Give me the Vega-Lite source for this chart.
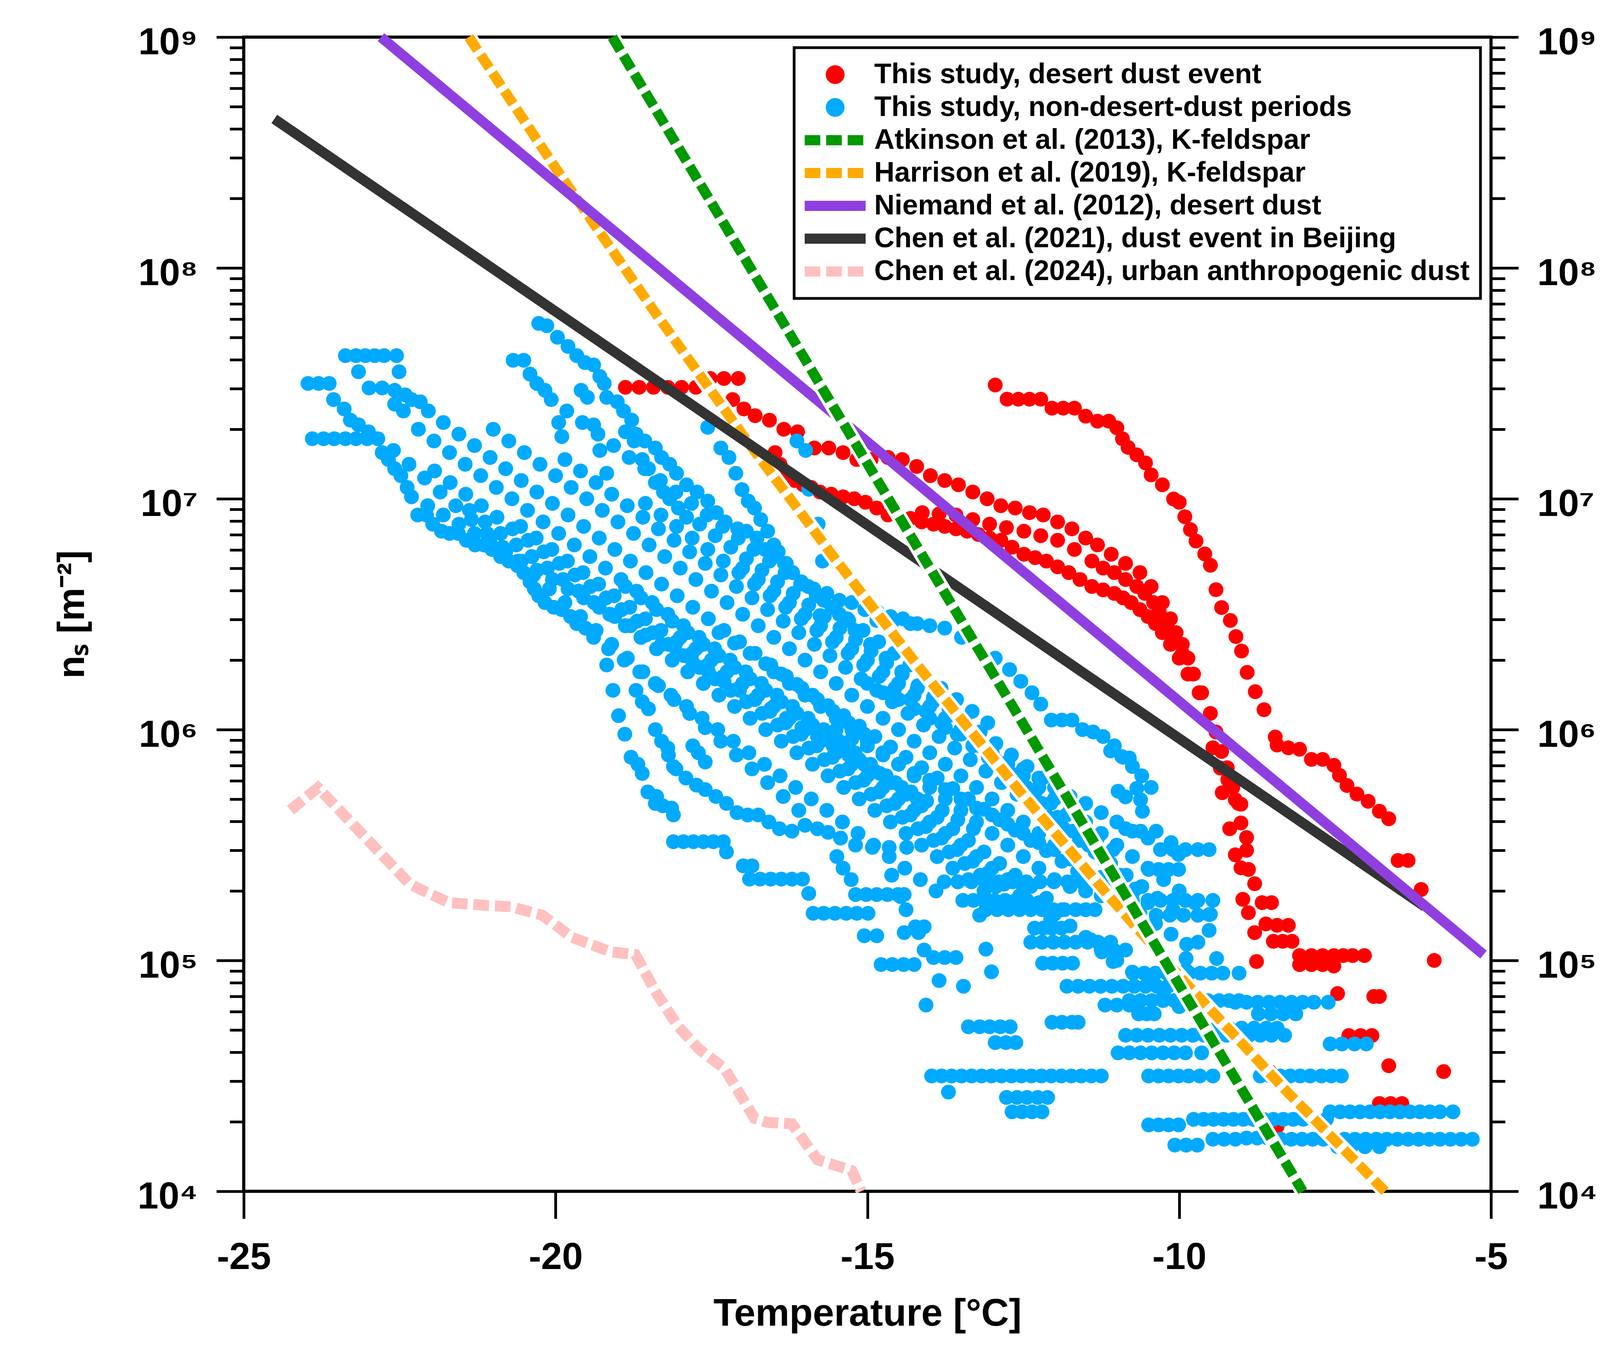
{
  "$schema": "https://vega.github.io/schema/vega-lite/v6.json",
  "width": 3193,
  "height": 2955,
  "autosize": "none",
  "padding": {"left": 624, "top": 95, "right": 293, "bottom": 414},
  "background": "white",
  "datasets": {
    "desertDust": [
      {"t":-18.88,"n":3.04e7},{"t":-18.66,"n":3.04e7},{"t":-18.43,"n":3.04e7},{"t":-18.2,"n":3.04e7},{"t":-17.98,"n":3.04e7},{"t":-17.75,"n":3.04e7},
      {"t":-17.52,"n":3.32e7},{"t":-17.3,"n":3.32e7},{"t":-17.07,"n":3.32e7},
      {"t":-17.16,"n":2.69e7},{"t":-16.98,"n":2.45e7},{"t":-16.8,"n":2.29e7},{"t":-16.57,"n":2.19e7},{"t":-16.34,"n":2.0e7},{"t":-16.12,"n":1.95e7},
      {"t":-15.85,"n":1.66e7},{"t":-15.62,"n":1.66e7},{"t":-15.39,"n":1.585e7},{"t":-15.17,"n":1.48e7},{"t":-14.94,"n":1.48e7},{"t":-14.67,"n":1.51e7},{"t":-14.44,"n":1.48e7},{"t":-14.21,"n":1.38e7},{"t":-13.99,"n":1.26e7},{"t":-13.76,"n":1.2e7},{"t":-13.54,"n":1.15e7},{"t":-13.31,"n":1.07e7},{"t":-13.08,"n":1.0e7},{"t":-12.86,"n":9.33e6},{"t":-12.63,"n":9.12e6},{"t":-12.4,"n":8.71e6},{"t":-12.18,"n":8.51e6},{"t":-11.95,"n":7.94e6},{"t":-11.72,"n":7.41e6},{"t":-11.5,"n":6.76e6},{"t":-11.31,"n":6.31e6},{"t":-11.09,"n":5.75e6},{"t":-10.86,"n":5.25e6},{"t":-10.63,"n":4.79e6},{"t":-10.45,"n":4.17e6},{"t":-10.27,"n":3.55e6},{"t":-10.14,"n":3.02e6},{"t":-10.05,"n":2.63e6},{"t":-9.95,"n":2.34e6},{"t":-9.86,"n":2.04e6},{"t":-9.77,"n":1.74e6},{"t":-9.64,"n":1.445e6},
      {"t":-16.48,"n":1.585e7},{"t":-16.4,"n":1.41e7},{"t":-16.3,"n":1.29e7},{"t":-16.17,"n":1.2e7},{"t":-16.03,"n":1.15e7},{"t":-15.9,"n":1.12e7},{"t":-15.76,"n":1.07e7},{"t":-15.58,"n":1.047e7},{"t":-15.39,"n":1.02e7},{"t":-15.21,"n":1.0e7},{"t":-15.03,"n":9.66e6},{"t":-14.85,"n":9.12e6},{"t":-14.67,"n":8.51e6},{"t":-14.49,"n":8.32e6},{"t":-14.31,"n":8.22e6},{"t":-14.13,"n":7.94e6},{"t":-13.94,"n":7.76e6},{"t":-13.76,"n":7.59e6},{"t":-13.58,"n":7.41e6},{"t":-13.4,"n":7.24e6},{"t":-13.22,"n":7.0e6},{"t":-13.04,"n":6.76e6},{"t":-12.86,"n":6.61e6},{"t":-12.68,"n":6.17e6},{"t":-12.49,"n":5.75e6},{"t":-12.31,"n":5.56e6},{"t":-12.13,"n":5.37e6},{"t":-11.95,"n":5.07e6},{"t":-11.77,"n":4.79e6},{"t":-11.59,"n":4.47e6},{"t":-11.4,"n":4.17e6},{"t":-11.22,"n":4.03e6},{"t":-11.04,"n":3.89e6},{"t":-10.9,"n":3.72e6},{"t":-10.77,"n":3.55e6},{"t":-10.63,"n":3.31e6},{"t":-10.5,"n":3.09e6},{"t":-10.38,"n":2.88e6},{"t":-10.27,"n":2.63e6},{"t":-10.14,"n":2.34e6},{"t":-10.0,"n":2.04e6},{"t":-9.86,"n":1.74e6},{"t":-9.68,"n":1.445e6},{"t":-9.5,"n":1.175e6},{"t":-9.41,"n":9.77e5},{"t":-9.32,"n":8.04e5},{"t":-9.23,"n":6.84e5},{"t":-9.14,"n":5.62e5},{"t":-9.05,"n":4.79e5},
      {"t":-14.12,"n":8.71e6},{"t":-13.85,"n":8.6e6},{"t":-13.58,"n":8.51e6},{"t":-13.31,"n":8.13e6},{"t":-13.04,"n":7.76e6},{"t":-12.77,"n":7.5e6},{"t":-12.49,"n":7.24e6},{"t":-12.22,"n":6.92e6},{"t":-11.95,"n":6.61e6},{"t":-11.68,"n":6.03e6},{"t":-11.4,"n":5.37e6},{"t":-11.22,"n":5.01e6},{"t":-11.04,"n":4.79e6},{"t":-10.86,"n":4.47e6},{"t":-10.68,"n":4.17e6},{"t":-10.55,"n":3.89e6},{"t":-10.41,"n":3.55e6},{"t":-10.32,"n":3.24e6},{"t":-10.23,"n":2.95e6},{"t":-10.16,"n":2.69e6},{"t":-10.09,"n":2.51e6},{"t":-9.95,"n":2.14e6},
      {"t":-9.46,"n":8.34e5},{"t":-9.34,"n":6.81e5},{"t":-9.22,"n":6.07e5},{"t":-9.31,"n":5.33e5},{"t":-9.1,"n":4.97e5},{"t":-9.01,"n":4.75e5},{"t":-9.01,"n":3.94e5},{"t":-9.19,"n":3.72e5},{"t":-8.92,"n":3.41e5},{"t":-8.92,"n":3.0e5},{"t":-9.1,"n":2.87e5},{"t":-9.01,"n":2.52e5},{"t":-8.89,"n":2.48e5},{"t":-8.79,"n":2.15e5},{"t":-8.98,"n":1.84e5},{"t":-8.89,"n":1.61e5},{"t":-8.67,"n":1.78e5},{"t":-8.52,"n":1.78e5},{"t":-8.79,"n":1.32e5},{"t":-8.61,"n":1.44e5},{"t":-8.43,"n":1.42e5},{"t":-8.25,"n":1.42e5},{"t":-8.49,"n":1.21e5},{"t":-8.34,"n":1.21e5},{"t":-8.19,"n":1.21e5},{"t":-8.76,"n":9.89e4},{"t":-8.07,"n":1.05e5},{"t":-7.88,"n":1.05e5},{"t":-7.7,"n":1.05e5},{"t":-7.52,"n":1.05e5},{"t":-7.37,"n":1.05e5},{"t":-7.22,"n":1.05e5},{"t":-7.03,"n":1.05e5},{"t":-8.07,"n":9.59e4},{"t":-7.88,"n":9.59e4},{"t":-7.7,"n":9.59e4},{"t":-7.52,"n":9.46e4},{"t":-7.46,"n":7.19e4},{"t":-6.88,"n":6.98e4},{"t":-6.79,"n":6.98e4},{"t":-7.28,"n":4.73e4},{"t":-7.09,"n":4.73e4},{"t":-6.91,"n":4.73e4},{"t":-6.64,"n":3.5e4},{"t":-6.79,"n":2.4e4},{"t":-6.61,"n":2.4e4},{"t":-6.43,"n":2.4e4},{"t":-8.55,"n":3.3e4},{"t":-8.43,"n":1.91e4},
      {"t":-12.95,"n":3.11e7},{"t":-12.76,"n":2.7e7},{"t":-12.58,"n":2.7e7},{"t":-12.4,"n":2.7e7},{"t":-12.22,"n":2.7e7},{"t":-12.04,"n":2.47e7},{"t":-11.86,"n":2.47e7},{"t":-11.68,"n":2.47e7},{"t":-11.5,"n":2.28e7},{"t":-11.31,"n":2.17e7},{"t":-11.13,"n":2.17e7},{"t":-11.0,"n":2.03e7},{"t":-10.91,"n":1.82e7},{"t":-10.82,"n":1.67e7},{"t":-10.68,"n":1.55e7},{"t":-10.54,"n":1.43e7},{"t":-10.45,"n":1.27e7},{"t":-10.27,"n":1.15e7},{"t":-10.09,"n":9.98e6},{"t":-10.0,"n":9.66e6},{"t":-9.91,"n":8.36e6},{"t":-9.82,"n":7.35e6},{"t":-9.73,"n":6.56e6},{"t":-9.59,"n":5.77e6},{"t":-9.5,"n":5.15e6},{"t":-9.41,"n":4.04e6},{"t":-9.32,"n":3.38e6},{"t":-9.18,"n":2.97e6},{"t":-9.09,"n":2.53e6},{"t":-9.0,"n":2.19e6},{"t":-8.91,"n":1.77e6},{"t":-8.78,"n":1.46e6},{"t":-8.64,"n":1.22e6},{"t":-8.46,"n":9.29e5},{"t":-8.43,"n":8.57e5},{"t":-8.25,"n":8.34e5},{"t":-8.07,"n":8.22e5},{"t":-7.88,"n":7.43e5},{"t":-7.7,"n":7.43e5},{"t":-7.52,"n":7.01e5},{"t":-7.43,"n":6.34e5},{"t":-7.31,"n":5.73e5},{"t":-7.15,"n":5.26e5},{"t":-6.97,"n":4.89e5},{"t":-6.79,"n":4.43e5},{"t":-6.64,"n":4.11e5},{"t":-6.49,"n":2.71e5},{"t":-6.33,"n":2.71e5},{"t":-6.12,"n":2.03e5},{"t":-5.91,"n":1.0e5},{"t":-5.76,"n":3.3e4}
    ],
    "nonDesertDust": [
      {"t":-23.37,"n":4.17e7},{"t":-23.2,"n":4.17e7},{"t":-23.05,"n":4.17e7},{"t":-22.9,"n":4.17e7},{"t":-22.75,"n":4.17e7},{"t":-22.55,"n":4.17e7},
      {"t":-23.16,"n":3.55e7},{"t":-22.51,"n":3.55e7},
      {"t":-23.97,"n":3.16e7},{"t":-23.8,"n":3.16e7},{"t":-23.63,"n":3.16e7},
      {"t":-23.56,"n":2.69e7},{"t":-23.39,"n":2.45e7},{"t":-23.29,"n":2.19e7},{"t":-23.16,"n":2.09e7},{"t":-23.0,"n":1.95e7},
      {"t":-23.9,"n":1.82e7},{"t":-23.72,"n":1.82e7},{"t":-23.55,"n":1.82e7},{"t":-23.37,"n":1.82e7},{"t":-23.2,"n":1.82e7},{"t":-23.02,"n":1.82e7},{"t":-22.85,"n":1.82e7},
      {"t":-22.99,"n":3.02e7},{"t":-22.78,"n":3.02e7},{"t":-22.58,"n":2.95e7},{"t":-22.41,"n":2.82e7},{"t":-22.31,"n":2.69e7},{"t":-22.17,"n":2.63e7},{"t":-22.04,"n":2.4e7},{"t":-22.58,"n":2.57e7},{"t":-22.44,"n":2.4e7},
      {"t":-22.78,"n":1.585e7},{"t":-22.68,"n":1.48e7},{"t":-22.58,"n":1.35e7},{"t":-22.48,"n":1.26e7},{"t":-22.38,"n":1.12e7},{"t":-22.31,"n":1.02e7},
      {"t":-20.27,"n":5.75e7},{"t":-20.14,"n":5.62e7},{"t":-19.97,"n":5.01e7},{"t":-19.8,"n":4.57e7},{"t":-19.66,"n":4.17e7},{"t":-19.53,"n":3.89e7},{"t":-19.39,"n":3.8e7},{"t":-19.29,"n":3.39e7},{"t":-19.22,"n":3.16e7},{"t":-19.18,"n":2.75e7},{"t":-19.01,"n":2.63e7},{"t":-18.91,"n":2.4e7},{"t":-18.78,"n":2.19e7},{"t":-18.71,"n":1.905e7},{"t":-18.57,"n":1.78e7},{"t":-18.4,"n":1.66e7},{"t":-18.3,"n":1.51e7},{"t":-18.17,"n":1.41e7},{"t":-18.06,"n":1.29e7},{"t":-17.9,"n":1.15e7},{"t":-17.73,"n":1.07e7},{"t":-17.56,"n":9.77e6},{"t":-17.42,"n":8.71e6},{"t":-17.28,"n":7.94e6},{"t":-17.08,"n":7.41e6},{"t":-16.94,"n":7.24e6},{"t":-16.77,"n":6.76e6},{"t":-16.64,"n":6.03e6},{"t":-16.5,"n":5.62e6},{"t":-16.33,"n":5.25e6},{"t":-16.2,"n":4.79e6},{"t":-16.06,"n":4.37e6},{"t":-15.86,"n":4.07e6},{"t":-15.65,"n":3.89e6},{"t":-15.45,"n":3.63e6},{"t":-15.25,"n":3.55e6},{"t":-15.04,"n":3.31e6},{"t":-14.84,"n":3.24e6},{"t":-14.63,"n":3.09e6},{"t":-14.43,"n":3.02e6},{"t":-14.2,"n":2.88e6},{"t":-14.0,"n":2.82e6},{"t":-13.76,"n":2.75e6},{"t":-13.49,"n":2.51e6},{"t":-13.22,"n":2.24e6},{"t":-12.95,"n":2.04e6},{"t":-12.72,"n":1.82e6},{"t":-12.54,"n":1.62e6},{"t":-12.36,"n":1.445e6},{"t":-12.22,"n":1.29e6},{"t":-12.05,"n":1.1e6},{"t":-11.88,"n":1.1e6},{"t":-11.72,"n":1.1e6},{"t":-11.55,"n":1.0e6},{"t":-11.38,"n":9.77e5},{"t":-11.22,"n":9.33e5},{"t":-11.04,"n":8.51e5},{"t":-10.9,"n":7.59e5},{"t":-10.75,"n":6.92e5},{"t":-10.6,"n":6.31e5},{"t":-10.45,"n":5.62e5},
      {"t":-15.76,"n":3.12e6},{"t":-15.3,"n":2.97e6},{"t":-14.85,"n":2.97e6},{"t":-14.58,"n":2.97e6},{"t":-14.31,"n":2.88e6},
      {"t":-20.68,"n":3.98e7},{"t":-20.51,"n":3.98e7},{"t":-20.41,"n":3.47e7},{"t":-20.3,"n":3.16e7},{"t":-20.17,"n":2.95e7},{"t":-20.07,"n":2.69e7},{"t":-19.82,"n":2.4e7},{"t":-19.57,"n":2.14e7},{"t":-19.32,"n":1.905e7},{"t":-19.07,"n":1.7e7},{"t":-18.82,"n":1.51e7},{"t":-18.57,"n":1.35e7},{"t":-18.32,"n":1.2e7},{"t":-18.07,"n":1.07e7},{"t":-17.82,"n":9.55e6},{"t":-17.57,"n":8.51e6},{"t":-17.32,"n":7.59e6},{"t":-17.07,"n":6.76e6},{"t":-16.82,"n":6.03e6},{"t":-16.57,"n":5.37e6},{"t":-16.32,"n":4.79e6},{"t":-16.07,"n":4.27e6},{"t":-15.82,"n":3.8e6},{"t":-15.57,"n":3.39e6},{"t":-15.32,"n":3.02e6},{"t":-15.07,"n":2.69e6},{"t":-14.82,"n":2.4e6},{"t":-14.57,"n":2.14e6},{"t":-14.32,"n":1.905e6},{"t":-14.07,"n":1.7e6},{"t":-13.82,"n":1.51e6},{"t":-13.57,"n":1.35e6},{"t":-13.32,"n":1.2e6},{"t":-13.07,"n":1.07e6},
      {"t":-19.95,"n":2.14e7},{"t":-19.9,"n":1.86e7},{"t":-19.59,"n":2.95e7},{"t":-19.49,"n":2.75e7},{"t":-19.39,"n":2.09e7},{"t":-19.29,"n":1.62e7},{"t":-19.18,"n":1.29e7},
      {"t":-18.88,"n":1.95e7},{"t":-18.74,"n":1.78e7},{"t":-18.61,"n":1.48e7},{"t":-18.51,"n":1.35e7},{"t":-18.4,"n":1.175e7},{"t":-18.27,"n":1.07e7},{"t":-18.17,"n":1.0e7},{"t":-18.03,"n":9.12e6},{"t":-17.9,"n":8.32e6},{"t":-17.69,"n":7.76e6},{"t":-17.44,"n":6.92e6},{"t":-17.19,"n":6.17e6},{"t":-16.94,"n":5.5e6},{"t":-16.69,"n":4.9e6},{"t":-16.44,"n":4.37e6},{"t":-16.19,"n":3.89e6},{"t":-15.94,"n":3.47e6},{"t":-15.69,"n":3.09e6},{"t":-15.44,"n":2.75e6},{"t":-15.19,"n":2.45e6},{"t":-14.94,"n":2.19e6},{"t":-14.69,"n":1.95e6},{"t":-14.44,"n":1.74e6},{"t":-14.19,"n":1.55e6},{"t":-13.94,"n":1.38e6},{"t":-13.69,"n":1.23e6},{"t":-13.44,"n":1.1e6},{"t":-13.19,"n":9.77e5},{"t":-12.94,"n":8.71e5},{"t":-12.69,"n":7.76e5},{"t":-12.44,"n":6.92e5},{"t":-12.19,"n":6.17e5},{"t":-11.94,"n":5.5e5},
      {"t":-17.56,"n":2.04e7},{"t":-17.35,"n":1.66e7},{"t":-17.22,"n":1.51e7},{"t":-17.11,"n":1.29e7},{"t":-17.01,"n":1.096e7},{"t":-16.91,"n":9.77e6},{"t":-16.81,"n":9.12e6},{"t":-16.71,"n":8.13e6},{"t":-16.6,"n":7.24e6},{"t":-16.5,"n":6.31e6},{"t":-16.43,"n":5.89e6},{"t":-16.3,"n":5.25e6},{"t":-16.2,"n":4.79e6},{"t":-15.95,"n":4.17e6},{"t":-15.7,"n":3.63e6},{"t":-15.45,"n":3.16e6},{"t":-15.2,"n":2.69e6},{"t":-14.95,"n":2.34e6},{"t":-14.7,"n":2.04e6},{"t":-14.45,"n":1.78e6},{"t":-14.2,"n":1.51e6},{"t":-13.95,"n":1.32e6},{"t":-13.7,"n":1.15e6},{"t":-13.45,"n":1.0e6},{"t":-13.2,"n":8.51e5},{"t":-12.95,"n":7.41e5},{"t":-12.7,"n":6.46e5},{"t":-12.45,"n":5.62e5},{"t":-12.2,"n":4.79e5},{"t":-11.95,"n":4.17e5},{"t":-11.7,"n":3.63e5},{"t":-11.45,"n":3.16e5},{"t":-11.2,"n":2.69e5},{"t":-10.95,"n":2.34e5},{"t":-10.7,"n":2.04e5},
      {"t":-16.13,"n":1.78e7},{"t":-15.99,"n":1.62e7},{"t":-15.94,"n":1.1e7},{"t":-15.79,"n":7.76e6},{"t":-15.72,"n":5.37e6},
      {"t":-21.8,"n":2.14e7},{"t":-21.55,"n":1.905e7},{"t":-21.3,"n":1.7e7},{"t":-21.05,"n":1.51e7},{"t":-20.8,"n":1.35e7},{"t":-20.55,"n":1.2e7},{"t":-20.3,"n":1.07e7},{"t":-20.05,"n":9.55e6},{"t":-19.8,"n":8.51e6},{"t":-19.55,"n":7.59e6},{"t":-19.3,"n":6.76e6},{"t":-19.05,"n":6.03e6},{"t":-18.8,"n":5.37e6},{"t":-18.55,"n":4.79e6},{"t":-18.3,"n":4.27e6},{"t":-18.05,"n":3.8e6},{"t":-17.8,"n":3.39e6},{"t":-17.55,"n":3.02e6},{"t":-17.3,"n":2.69e6},{"t":-17.05,"n":2.4e6},{"t":-16.8,"n":2.14e6},{"t":-16.55,"n":1.905e6},{"t":-16.3,"n":1.7e6},{"t":-16.05,"n":1.51e6},{"t":-15.8,"n":1.35e6},{"t":-15.55,"n":1.2e6},{"t":-15.3,"n":1.07e6},{"t":-15.05,"n":9.55e5},
      {"t":-22.2,"n":2.0e7},{"t":-21.95,"n":1.78e7},{"t":-21.7,"n":1.585e7},{"t":-21.45,"n":1.41e7},{"t":-21.2,"n":1.26e7},{"t":-20.95,"n":1.12e7},{"t":-20.7,"n":1.0e7},{"t":-20.45,"n":8.91e6},{"t":-20.2,"n":7.94e6},{"t":-19.95,"n":7.08e6},{"t":-19.7,"n":6.31e6},{"t":-19.45,"n":5.62e6},{"t":-19.2,"n":5.01e6},{"t":-18.95,"n":4.47e6},{"t":-18.7,"n":3.98e6},{"t":-18.45,"n":3.55e6},{"t":-18.2,"n":3.16e6},{"t":-17.95,"n":2.82e6},{"t":-17.7,"n":2.51e6},{"t":-17.45,"n":2.24e6},{"t":-17.2,"n":2.0e6},{"t":-16.95,"n":1.78e6},{"t":-16.7,"n":1.585e6},{"t":-16.45,"n":1.41e6},{"t":-16.2,"n":1.26e6},{"t":-15.95,"n":1.12e6},{"t":-15.7,"n":1.0e6},{"t":-15.45,"n":8.91e5},{"t":-15.2,"n":7.94e5},{"t":-14.95,"n":7.08e5},{"t":-14.7,"n":6.31e5},{"t":-14.45,"n":5.62e5},{"t":-14.2,"n":5.01e5},
      {"t":-22.6,"n":1.62e7},{"t":-22.35,"n":1.41e7},{"t":-22.1,"n":1.23e7},{"t":-21.85,"n":1.07e7},{"t":-21.6,"n":9.33e6},{"t":-21.35,"n":8.13e6},{"t":-21.1,"n":7.08e6},{"t":-20.85,"n":6.17e6},{"t":-20.6,"n":5.37e6},{"t":-20.35,"n":4.68e6},{"t":-20.1,"n":4.07e6},{"t":-19.85,"n":3.55e6},{"t":-19.6,"n":3.09e6},{"t":-19.35,"n":2.69e6},{"t":-19.1,"n":2.34e6},{"t":-18.85,"n":2.04e6},{"t":-18.6,"n":1.78e6},{"t":-18.35,"n":1.55e6},{"t":-18.1,"n":1.35e6},{"t":-17.85,"n":1.175e6},{"t":-17.6,"n":1.02e6},{"t":-17.35,"n":8.91e5},{"t":-17.1,"n":7.76e5},{"t":-16.85,"n":6.76e5},{"t":-16.6,"n":5.89e5},{"t":-16.35,"n":5.13e5},{"t":-16.1,"n":4.47e5},
      {"t":-22.05,"n":9.33e6},{"t":-21.8,"n":8.51e6},{"t":-21.55,"n":7.76e6},{"t":-21.3,"n":7.08e6},{"t":-21.05,"n":6.46e6},{"t":-20.8,"n":5.89e6},{"t":-20.55,"n":5.37e6},{"t":-20.3,"n":4.9e6},{"t":-20.05,"n":4.47e6},{"t":-19.8,"n":4.07e6},{"t":-19.55,"n":3.72e6},{"t":-19.3,"n":3.39e6},{"t":-19.05,"n":3.09e6},{"t":-18.8,"n":2.82e6},{"t":-18.55,"n":2.57e6},{"t":-18.3,"n":2.34e6},{"t":-18.05,"n":2.14e6},{"t":-17.8,"n":1.95e6},{"t":-17.55,"n":1.78e6},{"t":-17.3,"n":1.62e6},{"t":-17.05,"n":1.48e6},{"t":-16.8,"n":1.35e6},{"t":-16.55,"n":1.23e6},{"t":-16.3,"n":1.12e6},{"t":-16.05,"n":1.02e6},{"t":-15.8,"n":9.33e5},{"t":-15.55,"n":8.51e5},{"t":-15.3,"n":7.76e5},{"t":-15.05,"n":7.08e5},{"t":-14.8,"n":6.46e5},{"t":-14.55,"n":5.89e5},{"t":-14.3,"n":5.37e5},{"t":-14.05,"n":4.9e5},{"t":-13.8,"n":4.47e5},{"t":-13.55,"n":4.07e5},{"t":-13.3,"n":3.72e5},
      {"t":-22.21,"n":8.51e6},{"t":-22.07,"n":8.51e6},{"t":-21.97,"n":7.76e6},{"t":-21.83,"n":7.24e6},{"t":-21.7,"n":7.08e6},{"t":-21.56,"n":7.08e6},{"t":-21.43,"n":6.61e6},{"t":-21.29,"n":6.31e6},{"t":-21.15,"n":6.31e6},{"t":-21.02,"n":6.03e6},{"t":-20.88,"n":5.62e6},{"t":-20.75,"n":5.37e6},{"t":-20.61,"n":5.13e6},{"t":-20.51,"n":4.79e6},{"t":-20.41,"n":4.37e6},{"t":-20.34,"n":4.07e6},{"t":-20.27,"n":3.8e6},{"t":-20.17,"n":3.55e6},{"t":-20.03,"n":3.39e6},{"t":-19.9,"n":3.31e6},{"t":-19.76,"n":3.09e6},{"t":-19.66,"n":2.88e6},{"t":-19.52,"n":2.75e6},{"t":-19.39,"n":2.51e6},{"t":-19.15,"n":2.24e6},{"t":-18.9,"n":2.0e6},{"t":-18.65,"n":1.78e6},{"t":-18.4,"n":1.585e6},{"t":-18.15,"n":1.41e6},{"t":-17.9,"n":1.26e6},{"t":-17.65,"n":1.12e6},{"t":-17.4,"n":1.0e6},{"t":-17.15,"n":8.91e5},{"t":-16.9,"n":7.94e5},{"t":-16.65,"n":7.08e5},{"t":-16.4,"n":6.31e5},{"t":-16.15,"n":5.62e5},{"t":-15.9,"n":5.01e5},{"t":-15.65,"n":4.47e5},{"t":-15.4,"n":3.98e5},{"t":-15.15,"n":3.55e5},{"t":-14.9,"n":3.16e5},{"t":-14.65,"n":2.82e5},{"t":-14.4,"n":2.51e5},{"t":-14.15,"n":2.24e5},{"t":-13.9,"n":2.0e5},
      {"t":-21.0,"n":2.0e7},{"t":-20.75,"n":1.78e7},{"t":-20.5,"n":1.585e7},{"t":-20.25,"n":1.41e7},{"t":-20.0,"n":1.26e7},{"t":-19.75,"n":1.12e7},{"t":-19.5,"n":1.0e7},{"t":-19.25,"n":8.91e6},{"t":-19.0,"n":7.94e6},{"t":-18.75,"n":7.08e6},{"t":-18.5,"n":6.31e6},{"t":-18.25,"n":5.62e6},{"t":-18.0,"n":5.01e6},{"t":-17.75,"n":4.47e6},{"t":-17.5,"n":3.98e6},{"t":-17.25,"n":3.55e6},{"t":-17.0,"n":3.16e6},{"t":-16.75,"n":2.82e6},{"t":-16.5,"n":2.51e6},{"t":-16.25,"n":2.24e6},{"t":-16.0,"n":2.0e6},{"t":-15.75,"n":1.78e6},{"t":-15.5,"n":1.585e6},{"t":-15.25,"n":1.41e6},{"t":-15.0,"n":1.26e6},{"t":-14.75,"n":1.12e6},{"t":-14.5,"n":1.0e6},{"t":-14.25,"n":8.91e5},{"t":-14.0,"n":7.94e5},{"t":-13.75,"n":7.08e5},{"t":-13.5,"n":6.31e5},{"t":-13.25,"n":5.62e5},{"t":-13.0,"n":5.01e5},{"t":-12.75,"n":4.47e5},{"t":-12.5,"n":3.98e5},{"t":-12.25,"n":3.55e5},{"t":-12.0,"n":3.16e5},{"t":-11.75,"n":2.82e5},{"t":-11.5,"n":2.51e5},{"t":-11.25,"n":2.24e5},{"t":-11.0,"n":2.0e5},
      {"t":-19.85,"n":1.48e7},{"t":-19.6,"n":1.32e7},{"t":-19.35,"n":1.175e7},{"t":-19.1,"n":1.047e7},{"t":-18.85,"n":9.33e6},{"t":-18.6,"n":8.32e6},{"t":-18.35,"n":7.41e6},{"t":-18.1,"n":6.61e6},{"t":-17.85,"n":5.89e6},{"t":-17.6,"n":5.25e6},{"t":-17.35,"n":4.68e6},{"t":-17.1,"n":4.17e6},{"t":-16.85,"n":3.72e6},{"t":-16.6,"n":3.31e6},{"t":-16.35,"n":2.95e6},{"t":-16.1,"n":2.63e6},{"t":-15.85,"n":2.34e6},{"t":-15.6,"n":2.09e6},{"t":-15.35,"n":1.86e6},{"t":-15.1,"n":1.66e6},{"t":-14.85,"n":1.48e6},{"t":-14.6,"n":1.32e6},{"t":-14.35,"n":1.175e6},{"t":-14.1,"n":1.047e6},{"t":-13.85,"n":9.33e5},{"t":-13.6,"n":8.32e5},{"t":-13.35,"n":7.41e5},{"t":-13.1,"n":6.61e5},{"t":-12.85,"n":5.89e5},{"t":-12.6,"n":5.25e5},{"t":-12.35,"n":4.68e5},{"t":-12.1,"n":4.17e5},{"t":-11.85,"n":3.72e5},{"t":-11.6,"n":3.31e5},{"t":-11.35,"n":2.95e5},{"t":-11.1,"n":2.63e5},{"t":-10.85,"n":2.34e5},{"t":-10.6,"n":2.09e5},{"t":-10.35,"n":1.86e5},{"t":-10.1,"n":1.66e5},
      {"t":-18.0,"n":2.51e6},{"t":-17.75,"n":2.24e6},{"t":-17.5,"n":2.0e6},{"t":-17.25,"n":1.78e6},{"t":-17.0,"n":1.585e6},{"t":-16.75,"n":1.41e6},{"t":-16.5,"n":1.26e6},{"t":-16.25,"n":1.12e6},{"t":-16.0,"n":1.0e6},{"t":-15.75,"n":8.91e5},{"t":-15.5,"n":7.94e5},{"t":-15.25,"n":7.08e5},{"t":-15.0,"n":6.31e5},{"t":-14.75,"n":5.62e5},{"t":-14.5,"n":5.01e5},{"t":-14.25,"n":4.47e5},{"t":-14.0,"n":3.98e5},{"t":-13.75,"n":3.55e5},{"t":-13.5,"n":3.16e5},{"t":-13.25,"n":2.82e5},{"t":-13.0,"n":2.51e5},{"t":-12.75,"n":2.24e5},{"t":-12.5,"n":2.0e5},{"t":-12.25,"n":1.78e5},{"t":-12.0,"n":1.585e5},{"t":-11.75,"n":1.41e5},{"t":-11.5,"n":1.26e5},{"t":-11.25,"n":1.12e5},{"t":-11.0,"n":1.0e5},{"t":-10.75,"n":8.91e4},{"t":-10.5,"n":7.94e4},{"t":-10.25,"n":7.08e4},{"t":-10.0,"n":6.31e4},
      {"t":-17.0,"n":5.01e6},{"t":-16.75,"n":4.47e6},{"t":-16.5,"n":3.98e6},{"t":-16.25,"n":3.55e6},{"t":-16.0,"n":3.16e6},{"t":-15.75,"n":2.82e6},{"t":-15.5,"n":2.51e6},{"t":-15.25,"n":2.24e6},{"t":-15.0,"n":2.0e6},{"t":-14.75,"n":1.78e6},{"t":-14.5,"n":1.585e6},{"t":-14.25,"n":1.41e6},{"t":-14.0,"n":1.26e6},{"t":-13.75,"n":1.12e6},{"t":-13.5,"n":1.0e6},{"t":-13.25,"n":8.91e5},{"t":-13.0,"n":7.94e5},{"t":-12.75,"n":7.08e5},{"t":-12.5,"n":6.31e5},{"t":-12.25,"n":5.62e5},{"t":-12.0,"n":5.01e5},{"t":-11.75,"n":4.47e5},{"t":-11.5,"n":3.98e5},{"t":-11.25,"n":3.55e5},{"t":-11.0,"n":3.16e5},{"t":-10.75,"n":2.82e5},{"t":-10.5,"n":2.51e5},{"t":-10.25,"n":2.24e5},{"t":-10.0,"n":2.0e5},{"t":-9.75,"n":1.78e5},{"t":-9.5,"n":1.585e5},
      {"t":-15.0,"n":1.585e6},{"t":-14.75,"n":1.445e6},{"t":-14.5,"n":1.35e6},{"t":-14.25,"n":1.23e6},{"t":-14.0,"n":1.12e6},{"t":-13.75,"n":1.02e6},{"t":-13.5,"n":9.55e5},{"t":-13.25,"n":8.71e5},{"t":-13.0,"n":7.94e5},{"t":-12.75,"n":7.24e5},{"t":-12.5,"n":6.76e5},{"t":-12.25,"n":6.17e5},{"t":-12.0,"n":5.62e5},{"t":-11.75,"n":5.13e5},{"t":-11.5,"n":4.79e5},{"t":-11.25,"n":4.37e5},{"t":-11.0,"n":3.98e5},{"t":-10.75,"n":3.63e5},{"t":-10.5,"n":3.39e5},{"t":-10.3,"n":3.02e5},{"t":-10.1,"n":3.02e5},{"t":-9.9,"n":3.02e5},{"t":-9.7,"n":3.02e5},{"t":-9.52,"n":3.02e5},
      {"t":-16.5,"n":1.78e6},{"t":-16.25,"n":1.585e6},{"t":-16.0,"n":1.41e6},{"t":-15.75,"n":1.26e6},{"t":-15.5,"n":1.12e6},{"t":-15.25,"n":1.0e6},{"t":-15.0,"n":8.91e5},{"t":-14.75,"n":7.94e5},{"t":-14.5,"n":7.08e5},{"t":-14.25,"n":6.31e5},{"t":-14.0,"n":5.62e5},{"t":-13.75,"n":5.01e5},{"t":-13.5,"n":4.47e5},{"t":-13.25,"n":3.98e5},{"t":-13.0,"n":3.55e5},{"t":-12.75,"n":3.16e5},{"t":-12.5,"n":2.82e5},{"t":-12.25,"n":2.51e5},{"t":-12.0,"n":2.24e5},{"t":-11.75,"n":2.09e5},{"t":-11.5,"n":2.0e5},{"t":-11.25,"n":1.905e5},{"t":-11.0,"n":1.86e5},{"t":-10.75,"n":1.82e5},{"t":-10.5,"n":1.82e5},{"t":-10.3,"n":1.82e5},{"t":-10.1,"n":1.82e5},{"t":-9.9,"n":1.82e5},{"t":-9.7,"n":1.82e5},{"t":-9.46,"n":1.82e5},
      {"t":-15.5,"n":1.0e6},{"t":-15.25,"n":9.12e5},{"t":-15.0,"n":8.51e5},{"t":-14.75,"n":7.76e5},{"t":-14.5,"n":7.08e5},{"t":-14.25,"n":6.46e5},{"t":-14.0,"n":6.03e5},{"t":-13.75,"n":5.5e5},{"t":-13.5,"n":5.01e5},{"t":-13.25,"n":4.57e5},{"t":-13.0,"n":4.27e5},{"t":-12.75,"n":3.89e5},{"t":-12.5,"n":3.55e5},{"t":-12.25,"n":3.24e5},{"t":-12.0,"n":3.02e5},{"t":-11.75,"n":2.75e5},{"t":-11.5,"n":2.51e5},{"t":-11.25,"n":2.29e5},{"t":-11.0,"n":2.14e5},{"t":-10.75,"n":1.95e5},{"t":-10.5,"n":1.78e5},{"t":-10.37,"n":1.57e5},{"t":-10.15,"n":1.57e5},{"t":-9.93,"n":1.57e5},{"t":-9.7,"n":1.57e5},
      {"t":-20.38,"n":5.62e6},{"t":-20.13,"n":5.01e6},{"t":-19.88,"n":4.47e6},{"t":-19.63,"n":3.98e6},{"t":-19.38,"n":3.55e6},{"t":-19.13,"n":3.16e6},{"t":-18.88,"n":2.82e6},{"t":-18.63,"n":2.51e6},{"t":-18.38,"n":2.24e6},{"t":-18.13,"n":2.0e6},{"t":-17.88,"n":1.78e6},{"t":-17.63,"n":1.585e6},{"t":-17.38,"n":1.41e6},{"t":-17.13,"n":1.26e6},{"t":-16.88,"n":1.12e6},{"t":-16.63,"n":1.0e6},{"t":-16.38,"n":8.91e5},{"t":-16.13,"n":7.94e5},{"t":-15.88,"n":7.08e5},{"t":-15.63,"n":6.31e5},{"t":-15.38,"n":5.62e5},{"t":-15.13,"n":5.01e5},{"t":-14.88,"n":4.47e5},{"t":-14.63,"n":3.98e5},{"t":-14.38,"n":3.55e5},{"t":-14.13,"n":3.16e5},{"t":-13.88,"n":2.82e5},{"t":-13.63,"n":2.51e5},{"t":-13.38,"n":2.24e5},{"t":-13.13,"n":2.0e5},{"t":-12.88,"n":1.78e5},
      {"t":-18.88,"n":4.17e6},{"t":-18.63,"n":3.72e6},{"t":-18.38,"n":3.31e6},{"t":-18.13,"n":2.95e6},{"t":-17.88,"n":2.63e6},{"t":-17.63,"n":2.34e6},{"t":-17.38,"n":2.09e6},{"t":-17.13,"n":1.86e6},{"t":-16.88,"n":1.66e6},{"t":-16.63,"n":1.48e6},{"t":-16.38,"n":1.32e6},{"t":-16.13,"n":1.175e6},{"t":-15.88,"n":1.047e6},{"t":-15.63,"n":9.33e5},{"t":-15.38,"n":8.32e5},{"t":-15.13,"n":7.41e5},{"t":-14.88,"n":6.61e5},{"t":-14.63,"n":5.89e5},{"t":-14.38,"n":5.25e5},{"t":-14.13,"n":4.68e5},{"t":-13.88,"n":4.17e5},{"t":-13.63,"n":3.72e5},{"t":-13.38,"n":3.31e5},{"t":-13.13,"n":2.95e5},{"t":-12.88,"n":2.63e5},{"t":-12.63,"n":2.34e5},{"t":-12.38,"n":2.09e5},{"t":-12.13,"n":1.86e5},{"t":-11.88,"n":1.66e5},
      {"t":-17.38,"n":2.63e6},{"t":-17.13,"n":2.37e6},{"t":-16.88,"n":2.14e6},{"t":-16.63,"n":1.93e6},{"t":-16.38,"n":1.74e6},{"t":-16.13,"n":1.57e6},{"t":-15.88,"n":1.41e6},{"t":-15.63,"n":1.27e6},{"t":-15.38,"n":1.15e6},{"t":-15.13,"n":1.035e6},{"t":-14.88,"n":9.33e5},{"t":-14.63,"n":8.41e5},{"t":-14.38,"n":7.59e5},{"t":-14.13,"n":6.84e5},{"t":-13.88,"n":6.17e5},{"t":-13.63,"n":5.56e5},{"t":-13.38,"n":5.01e5},{"t":-13.13,"n":4.52e5},{"t":-12.88,"n":4.07e5},{"t":-12.63,"n":3.67e5},{"t":-12.38,"n":3.31e5},{"t":-12.13,"n":2.99e5},{"t":-11.88,"n":2.69e5},{"t":-11.63,"n":2.43e5},{"t":-11.38,"n":2.19e5},{"t":-11.13,"n":1.97e5},{"t":-10.88,"n":1.78e5},{"t":-10.63,"n":1.6e5},{"t":-10.38,"n":1.445e5},{"t":-10.13,"n":1.3e5},{"t":-9.88,"n":1.175e5},
      {"t":-21.38,"n":8.91e6},{"t":-21.13,"n":7.94e6},{"t":-20.88,"n":7.08e6},{"t":-20.63,"n":6.31e6},{"t":-20.38,"n":5.62e6},{"t":-20.13,"n":5.01e6},{"t":-19.88,"n":4.47e6},{"t":-19.63,"n":3.98e6},{"t":-19.38,"n":3.55e6},{"t":-19.13,"n":3.16e6},{"t":-18.88,"n":2.82e6},{"t":-18.63,"n":2.51e6},{"t":-18.38,"n":2.24e6},{"t":-18.13,"n":2.0e6},{"t":-17.88,"n":1.78e6},{"t":-17.63,"n":1.585e6},{"t":-17.38,"n":1.41e6},
      {"t":-21.94,"n":1.32e7},{"t":-21.69,"n":1.175e7},{"t":-21.44,"n":1.047e7},{"t":-21.19,"n":9.33e6},{"t":-20.94,"n":8.32e6},{"t":-20.69,"n":7.41e6},{"t":-20.44,"n":6.61e6},{"t":-20.19,"n":5.89e6},{"t":-19.94,"n":5.25e6},{"t":-19.69,"n":4.68e6},{"t":-19.44,"n":4.17e6},{"t":-19.19,"n":3.72e6},{"t":-18.94,"n":3.31e6},{"t":-18.69,"n":2.95e6},{"t":-18.44,"n":2.63e6},{"t":-18.19,"n":2.34e6},{"t":-17.94,"n":2.09e6},{"t":-17.69,"n":1.86e6},{"t":-17.44,"n":1.66e6},{"t":-17.19,"n":1.48e6},{"t":-16.94,"n":1.32e6},{"t":-16.69,"n":1.175e6},{"t":-16.44,"n":1.047e6},{"t":-16.19,"n":9.33e5},{"t":-15.94,"n":8.32e5},{"t":-15.69,"n":7.41e5},{"t":-15.44,"n":6.61e5},{"t":-15.19,"n":5.89e5},{"t":-14.94,"n":5.25e5},{"t":-14.69,"n":4.68e5},{"t":-14.44,"n":4.17e5},{"t":-14.19,"n":3.72e5},{"t":-13.94,"n":3.31e5},{"t":-13.69,"n":2.95e5},{"t":-13.44,"n":2.63e5},{"t":-13.19,"n":2.34e5},{"t":-12.94,"n":2.09e5},
      {"t":-20.56,"n":7.59e6},{"t":-20.31,"n":6.76e6},{"t":-20.06,"n":6.03e6},{"t":-19.81,"n":5.37e6},{"t":-19.56,"n":4.79e6},{"t":-19.31,"n":4.27e6},{"t":-19.06,"n":3.8e6},{"t":-18.81,"n":3.39e6},{"t":-18.56,"n":3.02e6},{"t":-18.31,"n":2.69e6},{"t":-18.06,"n":2.4e6},{"t":-17.81,"n":2.14e6},{"t":-17.56,"n":1.905e6},{"t":-17.31,"n":1.7e6},{"t":-17.06,"n":1.51e6},{"t":-16.81,"n":1.35e6},{"t":-16.56,"n":1.2e6},{"t":-16.31,"n":1.07e6},{"t":-16.06,"n":9.55e5},{"t":-15.81,"n":8.51e5},{"t":-15.56,"n":7.59e5},{"t":-15.31,"n":6.76e5},{"t":-15.06,"n":6.03e5},{"t":-14.81,"n":5.37e5},{"t":-14.56,"n":4.79e5},{"t":-14.31,"n":4.27e5},{"t":-14.06,"n":3.8e5},{"t":-13.81,"n":3.39e5},{"t":-13.56,"n":3.02e5},{"t":-13.31,"n":2.69e5},{"t":-13.06,"n":2.4e5},{"t":-12.81,"n":2.14e5},{"t":-12.56,"n":1.905e5},{"t":-12.31,"n":1.7e5},{"t":-12.06,"n":1.51e5},
      {"t":-18.56,"n":9.55e6},{"t":-18.31,"n":8.51e6},{"t":-18.06,"n":7.59e6},{"t":-17.81,"n":6.76e6},{"t":-17.56,"n":6.03e6},{"t":-17.31,"n":5.37e6},{"t":-17.06,"n":4.79e6},{"t":-16.81,"n":4.27e6},{"t":-16.56,"n":3.8e6},{"t":-16.31,"n":3.39e6},{"t":-16.06,"n":3.02e6},{"t":-15.81,"n":2.69e6},{"t":-15.56,"n":2.4e6},{"t":-15.31,"n":2.14e6},{"t":-15.06,"n":1.905e6},{"t":-14.81,"n":1.7e6},{"t":-14.56,"n":1.51e6},{"t":-14.31,"n":1.35e6},{"t":-14.06,"n":1.2e6},{"t":-13.81,"n":1.07e6},{"t":-13.56,"n":9.55e5},{"t":-13.31,"n":8.51e5},{"t":-13.06,"n":7.59e5},{"t":-12.81,"n":6.76e5},{"t":-12.56,"n":6.03e5},{"t":-12.31,"n":5.37e5},{"t":-12.06,"n":4.79e5},{"t":-11.81,"n":4.27e5},{"t":-11.56,"n":3.8e5},{"t":-11.31,"n":3.39e5},{"t":-11.06,"n":3.02e5},
      {"t":-19.18,"n":1.905e6},{"t":-19.08,"n":1.48e6},{"t":-18.99,"n":1.15e6},{"t":-18.89,"n":9.55e5},
      {"t":-18.71,"n":1.48e6},{"t":-18.61,"n":1.32e6},{"t":-18.51,"n":1.23e6},
      {"t":-18.79,"n":7.59e5},{"t":-18.68,"n":7.08e5},{"t":-18.61,"n":6.46e5},{"t":-18.52,"n":5.37e5},{"t":-18.4,"n":4.79e5},{"t":-18.38,"n":5.13e5},{"t":-18.28,"n":4.68e5},{"t":-18.14,"n":4.57e5},{"t":-18.11,"n":4.27e5},
      {"t":-18.4,"n":1.0e6},{"t":-18.3,"n":8.91e5},{"t":-18.2,"n":8.32e5},{"t":-18.19,"n":7.76e5},{"t":-18.07,"n":6.76e5},
      {"t":-17.8,"n":8.51e5},{"t":-17.71,"n":7.94e5},{"t":-17.6,"n":7.24e5},
      {"t":-18.11,"n":6.92e5},{"t":-17.91,"n":6.17e5},{"t":-17.74,"n":5.75e5},{"t":-17.6,"n":5.5e5},{"t":-17.43,"n":5.13e5},{"t":-17.26,"n":4.79e5},{"t":-17.09,"n":4.37e5},{"t":-16.92,"n":4.27e5},{"t":-16.75,"n":4.27e5},{"t":-16.58,"n":3.98e5},{"t":-16.41,"n":3.72e5},{"t":-16.21,"n":3.63e5},{"t":-16.0,"n":3.85e5},{"t":-15.8,"n":3.72e5},{"t":-15.63,"n":3.59e5},{"t":-15.43,"n":3.39e5},{"t":-15.19,"n":3.16e5},{"t":-14.92,"n":3.09e5},{"t":-14.65,"n":3.09e5},{"t":-14.37,"n":3.09e5},
      {"t":-18.11,"n":3.27e5},{"t":-17.95,"n":3.27e5},{"t":-17.79,"n":3.27e5},{"t":-17.63,"n":3.27e5},{"t":-17.47,"n":3.27e5},{"t":-17.31,"n":3.27e5},
      {"t":-17.26,"n":2.95e5},{"t":-16.99,"n":2.57e5},{"t":-16.85,"n":2.57e5},
      {"t":-16.89,"n":2.25e5},{"t":-16.72,"n":2.25e5},{"t":-16.55,"n":2.25e5},{"t":-16.38,"n":2.25e5},{"t":-16.21,"n":2.25e5},{"t":-16.04,"n":2.25e5},
      {"t":-15.94,"n":1.95e5},
      {"t":-15.87,"n":1.6e5},{"t":-15.7,"n":1.6e5},{"t":-15.52,"n":1.6e5},{"t":-15.34,"n":1.6e5},{"t":-15.17,"n":1.6e5},{"t":-14.99,"n":1.6e5},
      {"t":-15.49,"n":2.82e5},{"t":-15.39,"n":2.51e5},{"t":-15.26,"n":2.24e5},{"t":-14.61,"n":2.34e5},
      {"t":-15.19,"n":1.93e5},{"t":-15.02,"n":1.93e5},{"t":-14.85,"n":1.93e5},{"t":-14.68,"n":1.93e5},{"t":-14.51,"n":1.93e5},{"t":-14.41,"n":1.93e5},
      {"t":-15.05,"n":1.28e5},{"t":-14.85,"n":1.28e5},{"t":-14.41,"n":1.32e5},{"t":-14.18,"n":1.32e5},{"t":-14.09,"n":1.4e5},
      {"t":-14.78,"n":9.6e4},{"t":-14.6,"n":9.6e4},{"t":-14.42,"n":9.6e4},{"t":-14.25,"n":9.6e4},
      {"t":-14.09,"n":1.11e5},{"t":-13.94,"n":1.03e5},{"t":-13.76,"n":1.03e5},{"t":-13.58,"n":1.03e5},
      {"t":-13.85,"n":8.18e4},{"t":-13.46,"n":7.73e4},{"t":-14.06,"n":6.41e4},{"t":-13.1,"n":1.12e5},{"t":-13.01,"n":8.93e4},
      {"t":-14.38,"n":1.66e5},{"t":-14.47,"n":1.89e5},{"t":-14.23,"n":1.4e5},
      {"t":-13.97,"n":3.16e4},{"t":-13.81,"n":3.16e4},{"t":-13.65,"n":3.16e4},{"t":-13.49,"n":3.16e4},{"t":-13.33,"n":3.16e4},{"t":-13.17,"n":3.16e4},{"t":-13.01,"n":3.16e4},{"t":-12.85,"n":3.16e4},{"t":-12.69,"n":3.16e4},{"t":-12.53,"n":3.16e4},{"t":-12.37,"n":3.16e4},{"t":-12.21,"n":3.16e4},{"t":-12.05,"n":3.16e4},{"t":-11.89,"n":3.16e4},{"t":-11.73,"n":3.16e4},{"t":-11.57,"n":3.16e4},{"t":-11.41,"n":3.16e4},{"t":-11.25,"n":3.16e4},
      {"t":-13.7,"n":2.69e4},
      {"t":-12.77,"n":2.55e4},{"t":-12.6,"n":2.55e4},{"t":-12.44,"n":2.55e4},{"t":-12.27,"n":2.55e4},{"t":-12.11,"n":2.55e4},
      {"t":-12.68,"n":2.21e4},{"t":-12.52,"n":2.21e4},{"t":-12.36,"n":2.21e4},{"t":-12.2,"n":2.21e4},
      {"t":-13.38,"n":5.16e4},{"t":-13.2,"n":5.16e4},{"t":-13.04,"n":5.16e4},{"t":-12.87,"n":5.16e4},{"t":-12.71,"n":5.16e4},
      {"t":-12.95,"n":4.41e4},{"t":-12.78,"n":4.41e4},{"t":-12.62,"n":4.41e4},
      {"t":-12.04,"n":5.4e4},{"t":-11.88,"n":5.4e4},{"t":-11.72,"n":5.4e4},{"t":-11.62,"n":5.4e4},
      {"t":-10.49,"n":1.94e4},{"t":-10.33,"n":1.94e4},{"t":-10.17,"n":1.94e4},{"t":-10.01,"n":1.94e4},
      {"t":-10.07,"n":1.585e4},{"t":-9.89,"n":1.585e4},{"t":-9.71,"n":1.585e4},
      {"t":-9.77,"n":2.05e4},{"t":-9.61,"n":2.05e4},{"t":-9.45,"n":2.05e4},{"t":-9.29,"n":2.05e4},{"t":-9.13,"n":2.05e4},{"t":-8.97,"n":2.05e4},{"t":-8.81,"n":2.05e4},{"t":-8.65,"n":2.05e4},{"t":-8.49,"n":2.05e4},{"t":-8.33,"n":2.05e4},{"t":-8.17,"n":2.05e4},{"t":-8.01,"n":2.05e4},{"t":-7.85,"n":2.05e4},{"t":-7.64,"n":2.05e4},
      {"t":-7.58,"n":2.21e4},{"t":-7.42,"n":2.21e4},{"t":-7.26,"n":2.21e4},{"t":-7.1,"n":2.21e4},{"t":-6.94,"n":2.21e4},{"t":-6.78,"n":2.21e4},{"t":-6.62,"n":2.21e4},{"t":-6.46,"n":2.21e4},{"t":-6.3,"n":2.21e4},{"t":-6.14,"n":2.21e4},{"t":-5.98,"n":2.21e4},{"t":-5.82,"n":2.21e4},{"t":-5.61,"n":2.21e4},
      {"t":-9.46,"n":1.68e4},{"t":-9.28,"n":1.68e4},{"t":-9.1,"n":1.68e4},
      {"t":-8.92,"n":1.7e4},{"t":-8.75,"n":1.7e4},{"t":-8.58,"n":1.7e4},
      {"t":-8.37,"n":1.68e4},{"t":-8.2,"n":1.68e4},{"t":-8.03,"n":1.68e4},{"t":-7.86,"n":1.68e4},{"t":-7.69,"n":1.68e4},{"t":-7.52,"n":1.68e4},{"t":-7.35,"n":1.68e4},{"t":-7.18,"n":1.68e4},{"t":-7.01,"n":1.68e4},{"t":-6.84,"n":1.68e4},{"t":-6.67,"n":1.68e4},{"t":-6.5,"n":1.68e4},{"t":-6.33,"n":1.68e4},{"t":-6.16,"n":1.68e4},{"t":-5.99,"n":1.68e4},{"t":-5.82,"n":1.68e4},{"t":-5.65,"n":1.68e4},{"t":-5.48,"n":1.68e4},{"t":-5.3,"n":1.68e4},
      {"t":-7.46,"n":1.56e4},{"t":-7.24,"n":1.56e4},{"t":-7.02,"n":1.56e4},{"t":-6.79,"n":1.56e4},
      {"t":-8.7,"n":3.16e4},{"t":-8.54,"n":3.16e4},{"t":-8.38,"n":3.16e4},{"t":-8.22,"n":3.16e4},{"t":-8.06,"n":3.16e4},{"t":-7.9,"n":3.16e4},{"t":-7.72,"n":3.16e4},{"t":-7.56,"n":3.16e4},{"t":-7.4,"n":3.16e4},
      {"t":-7.58,"n":4.35e4},{"t":-7.39,"n":4.35e4},{"t":-7.19,"n":4.35e4},{"t":-7.0,"n":4.35e4},
      {"t":-10.49,"n":3.16e4},{"t":-10.33,"n":3.16e4},{"t":-10.17,"n":3.16e4},{"t":-10.01,"n":3.16e4},{"t":-9.85,"n":3.16e4},{"t":-9.67,"n":3.16e4},{"t":-9.46,"n":3.16e4},
      {"t":-10.98,"n":3.98e4},{"t":-10.8,"n":3.98e4},{"t":-10.62,"n":3.98e4},{"t":-10.44,"n":3.98e4},{"t":-10.26,"n":3.98e4},{"t":-10.08,"n":3.98e4},{"t":-9.9,"n":3.98e4},{"t":-9.64,"n":3.98e4},
      {"t":-10.86,"n":4.74e4},{"t":-10.68,"n":4.74e4},{"t":-10.5,"n":4.74e4},{"t":-10.32,"n":4.74e4},{"t":-10.14,"n":4.74e4},{"t":-9.96,"n":4.74e4},{"t":-9.78,"n":4.74e4},{"t":-9.6,"n":4.74e4},{"t":-9.42,"n":4.74e4},{"t":-9.24,"n":4.74e4},{"t":-9.06,"n":4.74e4},{"t":-8.88,"n":4.74e4},{"t":-8.7,"n":4.74e4},{"t":-8.52,"n":4.74e4},{"t":-8.31,"n":4.74e4},
      {"t":-9.4,"n":5.09e4},{"t":-9.2,"n":5.09e4},{"t":-9.0,"n":5.09e4},{"t":-8.8,"n":5.09e4},{"t":-8.6,"n":5.09e4},{"t":-8.43,"n":5.09e4},
      {"t":-9.1,"n":6.59e4},{"t":-8.92,"n":6.59e4},{"t":-8.74,"n":6.59e4},{"t":-8.56,"n":6.59e4},{"t":-8.38,"n":6.59e4},{"t":-8.2,"n":6.59e4},{"t":-8.02,"n":6.59e4},{"t":-7.84,"n":6.59e4},{"t":-7.61,"n":6.59e4},
      {"t":-8.73,"n":5.87e4},{"t":-8.53,"n":5.87e4},{"t":-8.33,"n":5.87e4},{"t":-8.13,"n":5.87e4},
      {"t":-11.19,"n":6.41e4},{"t":-11.0,"n":6.41e4},{"t":-10.8,"n":6.41e4},
      {"t":-10.8,"n":6.7e4},{"t":-10.62,"n":6.7e4},{"t":-10.44,"n":6.7e4},{"t":-10.26,"n":6.7e4},{"t":-10.08,"n":6.7e4},{"t":-9.9,"n":6.7e4},{"t":-9.72,"n":6.7e4},{"t":-9.54,"n":6.7e4},{"t":-9.36,"n":6.7e4},{"t":-9.2,"n":6.7e4},{"t":-9.04,"n":6.7e4},
      {"t":-11.8,"n":7.73e4},{"t":-11.62,"n":7.73e4},{"t":-11.44,"n":7.73e4},{"t":-11.26,"n":7.73e4},{"t":-11.08,"n":7.73e4},{"t":-10.9,"n":7.73e4},{"t":-10.72,"n":7.73e4},{"t":-10.54,"n":7.73e4},{"t":-10.36,"n":7.73e4},{"t":-10.18,"n":7.73e4},
      {"t":-10.74,"n":8.81e4},{"t":-10.56,"n":8.81e4},{"t":-10.38,"n":8.81e4},{"t":-10.2,"n":8.81e4},{"t":-10.02,"n":8.81e4},{"t":-9.84,"n":8.81e4},{"t":-9.66,"n":8.81e4},{"t":-9.48,"n":8.81e4},{"t":-9.3,"n":8.81e4},{"t":-9.04,"n":8.81e4},
      {"t":-10.65,"n":5.87e4},{"t":-10.52,"n":5.87e4},{"t":-10.4,"n":5.87e4},
      {"t":-12.19,"n":9.73e4},{"t":-12.03,"n":9.73e4},{"t":-11.87,"n":9.73e4},{"t":-11.71,"n":9.73e4},
      {"t":-9.89,"n":1.02e5},{"t":-9.89,"n":9.06e4},
      {"t":-12.38,"n":1.2e5},{"t":-12.2,"n":1.2e5},{"t":-12.02,"n":1.2e5},{"t":-11.84,"n":1.2e5},{"t":-11.66,"n":1.2e5},{"t":-11.47,"n":1.2e5},{"t":-11.3,"n":1.2e5},{"t":-11.1,"n":1.2e5},
      {"t":-12.32,"n":1.38e5},{"t":-12.18,"n":1.38e5},{"t":-12.04,"n":1.38e5},{"t":-11.89,"n":1.38e5},
      {"t":-11.25,"n":1.11e5},{"t":-11.05,"n":1.11e5},{"t":-10.86,"n":1.11e5},
      {"t":-13.1,"n":1.66e5},{"t":-12.92,"n":1.66e5},{"t":-12.74,"n":1.66e5},{"t":-12.56,"n":1.66e5},{"t":-12.38,"n":1.66e5},{"t":-12.2,"n":1.66e5},{"t":-12.02,"n":1.66e5},{"t":-11.84,"n":1.66e5},{"t":-11.66,"n":1.66e5},{"t":-11.5,"n":1.66e5},{"t":-11.35,"n":1.66e5},
      {"t":-13.47,"n":1.82e5},{"t":-13.3,"n":1.82e5},{"t":-13.13,"n":1.82e5},{"t":-12.96,"n":1.82e5},{"t":-12.79,"n":1.82e5},{"t":-12.62,"n":1.82e5},{"t":-12.44,"n":1.82e5},
      {"t":-13.2,"n":1.57e5},
      {"t":-13.77,"n":2.19e5},{"t":-13.55,"n":2.19e5},{"t":-13.33,"n":2.19e5},{"t":-13.11,"n":2.19e5},{"t":-12.89,"n":2.19e5},{"t":-12.67,"n":2.19e5},{"t":-12.45,"n":2.19e5},{"t":-12.23,"n":2.19e5},{"t":-12.01,"n":2.19e5},{"t":-11.79,"n":2.19e5},{"t":-11.57,"n":2.19e5},{"t":-11.35,"n":2.19e5},{"t":-11.1,"n":2.19e5},
      {"t":-10.49,"n":2.48e5},{"t":-10.33,"n":2.48e5},{"t":-10.17,"n":2.48e5},{"t":-10.01,"n":2.48e5},
      {"t":-10.86,"n":3.72e5},{"t":-10.62,"n":3.63e5},{"t":-10.37,"n":3.63e5},{"t":-10.13,"n":3.24e5},{"t":-10.01,"n":2.88e5},
      {"t":-10.98,"n":5.41e5},{"t":-10.86,"n":5.11e5},{"t":-10.68,"n":5.57e5},{"t":-10.62,"n":4.97e5},{"t":-10.59,"n":4.43e5},
      {"t":-11.1,"n":8.09e5},{"t":-10.92,"n":7.64e5},{"t":-10.8,"n":7.53e5},
      {"t":-9.52,"n":1.58e5},{"t":-9.7,"n":1.2e5},{"t":-9.52,"n":1.35e5},{"t":-9.4,"n":1.02e5},
      {"t":-11.42,"n":1.23e5},{"t":-11.24,"n":1.09e5},{"t":-11.06,"n":9.89e4}
    ],
    "atkinson": [{"t":-19.09,"n":1e9},{"t":-8.02,"n":1e4}],
    "harrison": [
      {"t":-21.39,"n":1e9},{"t":-20.0,"n":2.71e8},{"t":-18.43,"n":6.56e7},{"t":-16.93,"n":1.78e7},{"t":-15.5,"n":5.41e6},{"t":-14.21,"n":1.92e6},{"t":-12.5,"n":5.18e5},{"t":-11.1,"n":1.86e5},{"t":-9.89,"n":7.96e4},{"t":-8.3,"n":2.75e4},{"t":-6.7,"n":1e4}
    ],
    "niemand": [{"t":-22.8,"n":1e9},{"t":-5.12,"n":1.06e5}],
    "chen2021": [{"t":-24.51,"n":4.42e8},{"t":-6.06,"n":1.71e5}],
    "chen2024": [
      {"t":-24.25,"n":4.48e5},{"t":-23.81,"n":5.6e5},{"t":-22.35,"n":2.16e5},{"t":-22.18,"n":2.04e5},{"t":-21.71,"n":1.78e5},{"t":-21.1,"n":1.73e5},{"t":-20.72,"n":1.71e5},{"t":-20.21,"n":1.57e5},{"t":-19.74,"n":1.26e5},{"t":-19.12,"n":1.09e5},{"t":-18.72,"n":1.06e5},{"t":-18.38,"n":7.2e4},{"t":-18.04,"n":5.2e4},{"t":-17.7,"n":4.13e4},{"t":-17.29,"n":3.4e4},{"t":-16.81,"n":2.07e4},{"t":-16.61,"n":1.99e4},{"t":-16.21,"n":1.96e4},{"t":-15.8,"n":1.37e4},{"t":-15.25,"n":1.23e4},{"t":-15.1,"n":1.0e4}
    ]
  },
  "layer": [
    {
      "data": {"name": "desertDust"},
      "mark": {"type": "point", "filled": true, "opacity": 1, "size": 72600},
      "encoding": {
        "x": {
          "field": "t", "type": "quantitative",
          "scale": {"domain": [-25, -5], "nice": false, "zero": false},
          "axis": {
            "orient": "bottom", "values": [-25, -20, -15, -10, -5],
            "labelExpr": "'' + datum.value",
            "tickSize": 70, "tickWidth": 7, "tickColor": "black",
            "labelFontSize": 96, "labelFontWeight": "bold", "labelColor": "black", "labelFont": "Liberation Sans",
            "labelPadding": 52, "labelFlush": false, "labelOverlap": false,
            "title": "Temperature [°C]", "titleFontSize": 98, "titleFontWeight": "bold", "titleColor": "black", "titleFont": "Liberation Sans",
            "titlePadding": 66
          }
        },
        "y": {
          "field": "n", "type": "quantitative",
          "scale": {"type": "log", "domain": [10000, 1000000000], "nice": false},
          "axis": {
            "orient": "left", "values": [10000, 100000, 1000000, 10000000, 100000000, 1000000000],
            "labelExpr": "'10' + ['⁰','¹','²','³','⁴','⁵','⁶','⁷','⁸','⁹'][round(log(datum.value) / LN10)]",
            "tickSize": 70, "tickWidth": 7, "tickColor": "black",
            "labelFontSize": 96, "labelFontWeight": "bold", "labelColor": "black", "labelFont": "Liberation Sans",
            "labelPadding": 48, "labelOffset": 14, "labelFlush": false, "labelOverlap": false,
            "title": "nₛ [m⁻²]", "titleFontSize": 96, "titleFontWeight": "bold", "titleColor": "black", "titleFont": "Liberation Sans",
            "titlePadding": 190
          }
        },
        "color": {
          "datum": "This study, desert dust event",
          "scale": {
            "domain": [
              "This study, desert dust event",
              "This study, non-desert-dust periods",
              "Atkinson et al. (2013), K-feldspar",
              "Harrison et al. (2019), K-feldspar",
              "Niemand et al. (2012), desert dust",
              "Chen et al. (2021), dust event in Beijing",
              "Chen et al. (2024), urban anthropogenic dust"
            ],
            "range": ["#ff0000", "#00aaff", "#009900", "#ffaa00", "#8f3fe0", "#333333", "#ffc0c0"]
          },
          "legend": {
            "title": null,
            "orient": "top-right",
            "offset": 27,
            "padding": 27,
            "labelFont": "Liberation Sans",
            "labelFontSize": 72,
            "labelFontWeight": "bold",
            "labelColor": "black",
            "labelLimit": 3000,
            "labelOffset": 9,
            "symbolOffset": -13,
            "symbolSize": 24336,
            "symbolStrokeWidth": 26,
            "clipHeight": 84,
            "rowPadding": 0
          }
        },
        "shape": {
          "datum": "This study, desert dust event",
          "scale": {
            "domain": [
              "This study, desert dust event",
              "This study, non-desert-dust periods",
              "Atkinson et al. (2013), K-feldspar",
              "Harrison et al. (2019), K-feldspar",
              "Niemand et al. (2012), desert dust",
              "Chen et al. (2021), dust event in Beijing",
              "Chen et al. (2024), urban anthropogenic dust"
            ],
            "range": [
              "M0.141,0A0.141,0.141,0,1,1,-0.141,0A0.141,0.141,0,1,1,0.141,0Z",
              "M0.141,0A0.141,0.141,0,1,1,-0.141,0A0.141,0.141,0,1,1,0.141,0Z",
              "stroke", "stroke", "stroke", "stroke", "stroke"
            ]
          },
          "legend": {"title": null}
        }
      }
    },
    {
      "data": {"name": "nonDesertDust"},
      "mark": {"type": "point", "filled": true, "opacity": 1, "size": 72600},
      "encoding": {
        "x": {"field": "t", "type": "quantitative", "axis": null},
        "y": {
          "field": "n", "type": "quantitative",
          "axis": {
            "orient": "right", "values": [10000, 100000, 1000000, 10000000, 100000000, 1000000000],
            "labelExpr": "'10' + ['⁰','¹','²','³','⁴','⁵','⁶','⁷','⁸','⁹'][round(log(datum.value) / LN10)]",
            "tickSize": 70, "tickWidth": 7, "tickColor": "black",
            "labelFontSize": 96, "labelFontWeight": "bold", "labelColor": "black", "labelFont": "Liberation Sans",
            "labelPadding": 48, "labelOffset": 14, "labelFlush": false, "labelOverlap": false,
            "title": null
          }
        },
        "color": {"datum": "This study, non-desert-dust periods"},
        "shape": {"datum": "This study, non-desert-dust periods"}
      }
    },
    {
      "data": {"name": "harrison"},
      "mark": {"type": "line", "color": "white", "strokeWidth": 40},
      "encoding": {
        "x": {"field": "t", "type": "quantitative", "axis": null},
        "y": {
          "field": "n", "type": "quantitative",
          "axis": {
            "orient": "left",
            "values": [20000,30000,40000,50000,60000,70000,80000,90000,200000,300000,400000,500000,600000,700000,800000,900000,2000000,3000000,4000000,5000000,6000000,7000000,8000000,9000000,20000000,30000000,40000000,50000000,60000000,70000000,80000000,90000000,200000000,300000000,400000000,500000000,600000000,700000000,800000000,900000000],
            "labels": false, "tickSize": 36, "tickWidth": 7, "tickColor": "black", "title": null
          }
        }
      }
    },
    {
      "data": {"name": "harrison"},
      "mark": {"type": "line", "strokeWidth": 26},
      "encoding": {
        "x": {"field": "t", "type": "quantitative", "axis": null},
        "y": {
          "field": "n", "type": "quantitative",
          "axis": {
            "orient": "right",
            "values": [20000,30000,40000,50000,60000,70000,80000,90000,200000,300000,400000,500000,600000,700000,800000,900000,2000000,3000000,4000000,5000000,6000000,7000000,8000000,9000000,20000000,30000000,40000000,50000000,60000000,70000000,80000000,90000000,200000000,300000000,400000000,500000000,600000000,700000000,800000000,900000000],
            "labels": false, "tickSize": 36, "tickWidth": 7, "tickColor": "black", "title": null
          }
        },
        "color": {"datum": "Harrison et al. (2019), K-feldspar"},
        "strokeDash": {
          "datum": "Harrison et al. (2019), K-feldspar",
          "scale": {
            "domain": [
              "This study, desert dust event",
              "This study, non-desert-dust periods",
              "Atkinson et al. (2013), K-feldspar",
              "Harrison et al. (2019), K-feldspar",
              "Niemand et al. (2012), desert dust",
              "Chen et al. (2021), dust event in Beijing",
              "Chen et al. (2024), urban anthropogenic dust"
            ],
            "range": [[1, 0], [1, 0], [40, 15], [40, 15], [1, 0], [1, 0], [40, 15]]
          },
          "legend": {"title": null}
        }
      }
    },
    {
      "data": {"name": "chen2021"},
      "mark": {"type": "line", "strokeWidth": 26},
      "encoding": {
        "x": {"field": "t", "type": "quantitative", "axis": null},
        "y": {"field": "n", "type": "quantitative", "axis": null},
        "color": {"datum": "Chen et al. (2021), dust event in Beijing"},
        "strokeDash": {"datum": "Chen et al. (2021), dust event in Beijing"}
      }
    },
    {
      "data": {"name": "niemand"},
      "mark": {"type": "line", "strokeWidth": 26},
      "encoding": {
        "x": {"field": "t", "type": "quantitative", "axis": null},
        "y": {"field": "n", "type": "quantitative", "axis": null},
        "color": {"datum": "Niemand et al. (2012), desert dust"},
        "strokeDash": {"datum": "Niemand et al. (2012), desert dust"}
      }
    },
    {
      "data": {"name": "atkinson"},
      "mark": {"type": "line", "color": "white", "strokeWidth": 40},
      "encoding": {
        "x": {"field": "t", "type": "quantitative", "axis": null},
        "y": {"field": "n", "type": "quantitative", "axis": null}
      }
    },
    {
      "data": {"name": "atkinson"},
      "mark": {"type": "line", "strokeWidth": 26},
      "encoding": {
        "x": {"field": "t", "type": "quantitative", "axis": null},
        "y": {"field": "n", "type": "quantitative", "axis": null},
        "color": {"datum": "Atkinson et al. (2013), K-feldspar"},
        "strokeDash": {"datum": "Atkinson et al. (2013), K-feldspar"}
      }
    },
    {
      "data": {"name": "chen2024"},
      "mark": {"type": "line", "strokeWidth": 28},
      "encoding": {
        "x": {"field": "t", "type": "quantitative", "axis": null},
        "y": {"field": "n", "type": "quantitative", "axis": null},
        "color": {"datum": "Chen et al. (2024), urban anthropogenic dust"},
        "strokeDash": {"datum": "Chen et al. (2024), urban anthropogenic dust"}
      }
    }
  ],
  "resolve": {"axis": {"x": "independent", "y": "independent"}},
  "config": {
    "view": {"stroke": "black", "strokeWidth": 8},
    "font": "Liberation Sans",
    "axis": {"grid": false, "domain": false},
    "legend": {"strokeColor": "black", "strokeWidth": 7, "fillColor": "white"}
  }
}
